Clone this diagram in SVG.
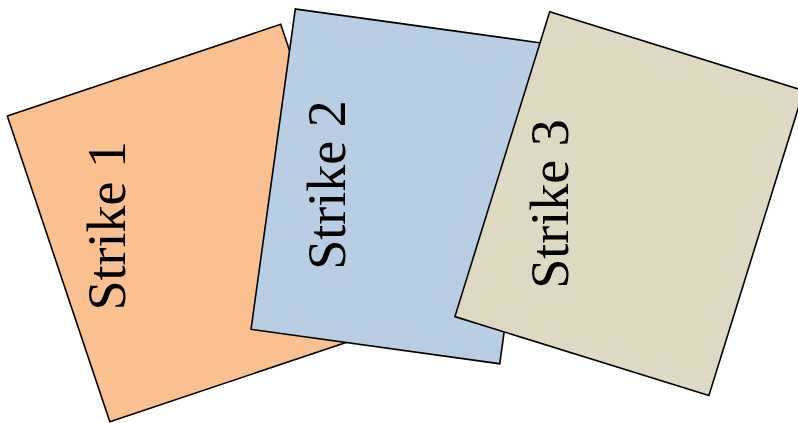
<svg xmlns="http://www.w3.org/2000/svg" width="798" height="423" viewBox="0 0 798 423">
<style>
.card{stroke:#000;stroke-width:1.6;stroke-linejoin:miter}
.lbl{font-family:"Liberation Serif","Times New Roman",serif;font-size:54px;fill:#000;text-anchor:middle}
</style>
<rect width="798" height="423" fill="#fff"/>
<g id="strike1">
<rect class="card" x="0" y="0" width="288.4" height="322.5" fill="#FAC090" transform="translate(7.3,116) rotate(-18.54)"/>
<text class="lbl" transform="translate(125,225.8) rotate(-90)" x="0" y="0">Strike 1</text>
</g>
<g id="strike2">
<rect class="card" x="0" y="0" width="251.1" height="323.4" fill="#B9CDE5" transform="translate(295.3,9) rotate(7.87)"/>
<text class="lbl" transform="translate(345,185) rotate(-90)" x="0" y="0">Strike 2</text>
</g>
<g id="strike3">
<rect class="card" x="0" y="0" width="266" height="319.3" fill="#DDD9C3" transform="translate(549.7,11.7) rotate(17.27)"/>
<text class="lbl" transform="translate(568,204) rotate(-90)" x="0" y="0">Strike 3</text>
</g>
<g id="connectors"/>
</svg>
